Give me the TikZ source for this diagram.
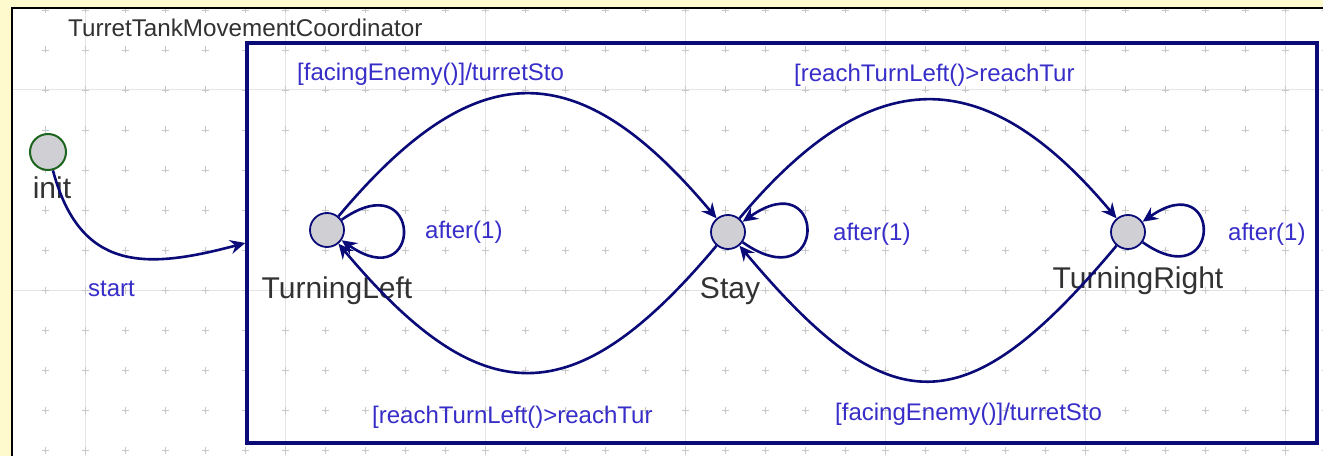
\documentclass[tikz,border=0pt]{standalone}
\usepackage{fontspec}
\setmainfont{Liberation Sans}
\usepackage{tikz}
\usetikzlibrary{arrows.meta, positioning}
\definecolor{sheetyellow}{RGB}{255,250,205}
\definecolor{navyline}{RGB}{10,10,120}
\definecolor{guardblue}{RGB}{55,45,200}
\definecolor{namegray}{RGB}{50,50,50}
\definecolor{stategray}{RGB}{208,208,212}
\definecolor{initgreen}{RGB}{30,100,30}
\definecolor{gridline}{RGB}{228,228,228}
\definecolor{gridplus}{RGB}{200,200,200}
\tikzset{
  state/.style={circle, draw=navyline, fill=stategray,
    minimum size=34pt, inner sep=0pt, line width=1.8pt},
  initstate/.style={state, draw=initgreen, minimum size=36pt, line width=2pt},
  statename/.style={anchor=base, inner sep=0pt,
    font=\fontsize{30}{36}\selectfont, text=namegray},
  guard/.style={anchor=base west, inner sep=0pt,
    font=\fontsize{24}{29}\selectfont, text=guardblue},
  trans/.style={-{Stealth[length=15pt, width=14pt, inset=5pt]},
    line width=2.6pt, draw=navyline},
  region/.style={draw=navyline, line width=3.5pt, inner sep=0pt,
    minimum width=1070pt, minimum height=400pt}
}

\begin{document}
\begin{tikzpicture}[x=1pt, y=1pt]
  % Sheet with grid
  \fill[sheetyellow] (0,0) rectangle (1323,456);
  \useasboundingbox (0,0) rectangle (1323,456);
  \fill[white] (12,0) rectangle (1323,448);
  \begin{scope}
    \clip (12,0) rectangle (1323,448);
    \foreach \gx in {85,285,...,1285}
      \draw[gridline, line width=1pt] (\gx,0) -- (\gx,448);
    \foreach \gy in {166,366}
      \draw[gridline, line width=1pt] (12,\gy) -- (1323,\gy);
    \foreach \gx in {45,85,...,1325}
      \foreach \gy in {6,46,...,446}
        \draw[gridplus, line width=0.8pt] (\gx-3.5,\gy) -- (\gx+3.5,\gy) (\gx,\gy-3.5) -- (\gx,\gy+3.5);
  \end{scope}
  \draw[black, line width=2.5pt] (12,0) -- (12,448) -- (1323,448);

  % Title and composite state
  \node[anchor=base west, inner sep=0pt, font=\fontsize{24.2}{29}\selectfont, text=namegray]
    (title) at (68,419) {TurretTankMovementCoordinator};
  \node[region] (coordinator) at (782,213) {};

  % States
  \node[initstate] (init) at (48,304) {};
  \node[state] (left) at (327,226) {};
  \node[state] (stay) at (728,224) {};
  \node[state] (right) at (1128,224) {};
  \node[statename] (initname) at (52,258) {init};
  \node[statename] (leftname) at (337,158) {TurningLeft};
  \node[statename] (stayname) at (730,158) {Stay};
  \node[statename] (rightname) at (1138,168) {TurningRight};

  % Transitions
  \draw[trans] (init) to[out=-75, in=195, looseness=1.3] (coordinator.west);
  \draw[trans] (left) to[out=50, in=130, looseness=1.45] (stay);
  \draw[trans] (stay) to[out=50, in=130, looseness=1.4] (right);
  \draw[trans] (stay) to[out=-130, in=-50, looseness=1.5] (left);
  \draw[trans] (right) to[out=-130, in=-50, looseness=1.6] (stay);
  \draw[trans] (left) to[out=35, in=-35, distance=100pt] (left);
  \draw[trans] (stay) to[out=-35, in=35, distance=104pt] (stay);
  \draw[trans] (right) to[out=-35, in=35, distance=98pt] (right);

  % Labels
  \node[guard] (startlabel) at (88,160) {start};
  \node[guard] (guardtl) at (297,375) {[facingEnemy()]/turretSto};
  \node[guard] (guardtr) at (794,374) {[reachTurnLeft()>reachTur};
  \node[guard] (guardbl) at (372,33) {[reachTurnLeft()>reachTur};
  \node[guard] (guardbr) at (835,36) {[facingEnemy()]/turretSto};
  \node[guard] (afterleft) at (425,218) {after(1)};
  \node[guard] (afterstay) at (833,216) {after(1)};
  \node[guard] (afterright) at (1228,216) {after(1)};
\end{tikzpicture}
\end{document}
